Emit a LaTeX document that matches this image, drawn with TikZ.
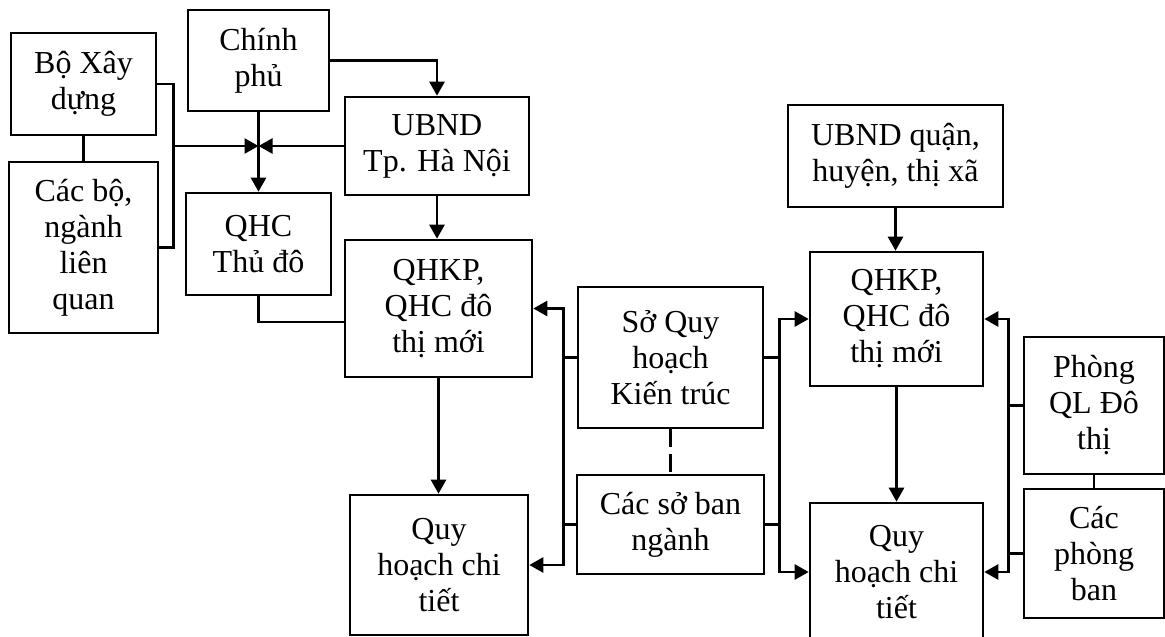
\documentclass[tikz,border=0pt]{standalone}
\usepackage{fontspec}
\setmainfont{Liberation Serif}
\usetikzlibrary{arrows.meta}

\begin{document}
\begin{tikzpicture}[
  x=0.5pt, y=-0.5pt,
  box/.style={draw, line width=1.3pt, align=center, inner sep=0pt, font=\fontsize{16}{18}\selectfont},
  arrow/.style={-{Triangle[length=7pt,width=7.5pt]}, line width=1.3pt},
  link/.style={line width=1.3pt}
]
\useasboundingbox (0,0) rectangle (1165,636);
% left column
\node[box, minimum width=72.5pt, minimum height=51pt] (bxd) at (83.5,84) {Bộ Xây\\dựng};
\node[box, minimum width=74.5pt, minimum height=85.5pt] (cacbo) at (83.5,247.5) {Các bộ,\\ngành\\liên\\quan};
\node[box, minimum width=70.5pt, minimum height=50.5pt] (chinhphu) at (258.5,60.5) {Chính\\phủ};
\node[box, minimum width=92pt, minimum height=49pt] (ubndtp) at (437,146) {UBND\\Tp. Hà Nội};
\node[box, minimum width=72.5pt, minimum height=51pt] (qhctd) at (258.5,244) {QHC\\Thủ đô};
\node[box, minimum width=93.5pt, minimum height=68.5pt] (qhkpL) at (438.5,308.5) {QHKP,\\QHC đô\\thị mới};
\node[box, minimum width=89pt, minimum height=70pt] (qctL) at (439,565) {Quy\\hoạch chi\\tiết};
% middle column
\node[box, minimum width=92.5pt, minimum height=70.5pt] (soqh) at (670.5,357.5) {Sở Quy\\hoạch\\Kiến trúc};
\node[box, minimum width=93.5pt, minimum height=49.5pt] (cacso) at (670.5,524.5) {Các sở ban\\ngành};
% right column
\node[box, minimum width=107.5pt, minimum height=51pt] (ubndq) at (895.5,156) {UBND quận,\\huyện, thị xã};
\node[box, minimum width=86.5pt, minimum height=67pt] (qhkpR) at (896.5,319) {QHKP,\\QHC đô\\thị mới};
\node[box, minimum width=86.5pt, minimum height=69pt] (qctR) at (896.5,572) {Quy\\hoạch chi\\tiết};
\node[box, minimum width=70pt, minimum height=68.5pt] (phongql) at (1094,405.5) {Phòng\\QL Đô\\thị};
\node[box, minimum width=70pt, minimum height=64.5pt] (cacphong) at (1094,553.5) {Các\\phòng\\ban};

% top left connectors
\coordinate (hub) at (chinhphu.south |- ubndtp.west);
\draw[link] (bxd) -- (cacbo);
\draw[link] (bxd.east) -- ++(16,0) coordinate (brk) |- (cacbo.east);
\draw[arrow] (brk |- hub) -- (hub);
\draw[arrow] (ubndtp.west) -- (hub);
\draw[arrow] (chinhphu.south) -- (qhctd.north);
\draw[arrow] (chinhphu.east) -| (ubndtp.north);
\draw[arrow] (ubndtp.south) -- (ubndtp.south |- qhkpL.north);
\draw[link] (qhctd.south) |- ([yshift=-6.75pt]qhkpL.west);
\draw[arrow] (qhkpL.south) -- (qhkpL.south |- qctL.north);

% departments to the left plans
\draw[arrow] (soqh.west) -- ++(-13,0) coordinate (lbus) |- (qhkpL.east);
\draw[arrow] (lbus) |- (qctL.east);
\draw[link] (cacso.west) -- (cacso.west -| lbus);
\draw[link, dash pattern=on 9pt off 3.5pt, dash phase=0pt] (soqh) -- (cacso);

% departments to the right plans
\draw[arrow] (soqh.east) -- ++(15,0) coordinate (rbus) |- (qhkpR.west);
\draw[arrow] (rbus) |- (qctR.west);
\draw[link] (cacso.east) -- (cacso.east -| rbus);

% right column connectors
\draw[arrow] (ubndq.south) -- (ubndq.south |- qhkpR.north);
\draw[arrow] (qhkpR.south) -- (qctR.north);
\draw[link] (phongql) -- (cacphong);
\draw[arrow] (phongql.west) -- ++(-14,0) coordinate (pbus) |- (qhkpR.east);
\draw[arrow] (pbus) |- (qctR.east);
\draw[link] (cacphong.west) -- (cacphong.west -| pbus);
\end{tikzpicture}
\end{document}
